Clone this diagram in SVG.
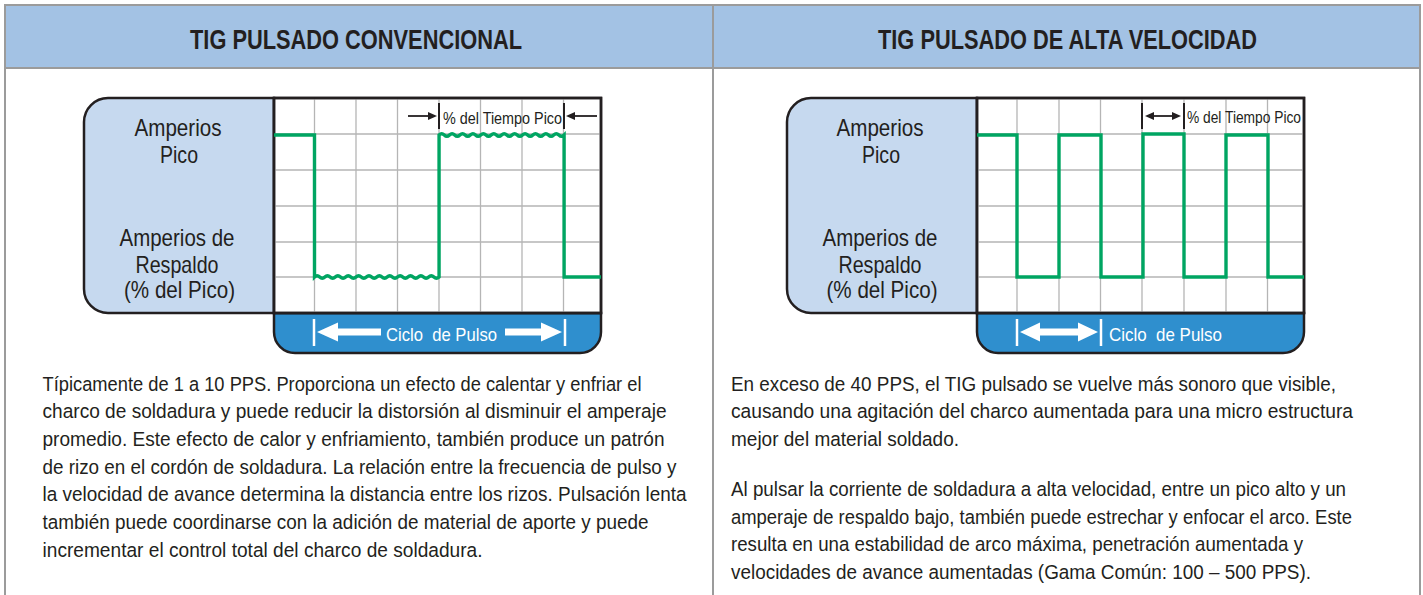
<svg xmlns="http://www.w3.org/2000/svg" width="1423" height="595" viewBox="0 0 1423 595">
<defs>
<style>
.frame{fill:none;stroke:#9b9b9b;stroke-width:2}
.hdr{fill:#a3c2e4}
.htxt{font-family:"Liberation Sans",Arial,sans-serif;font-weight:bold;font-size:28px;fill:#231f20}
.lbox{fill:#c6d9ef;stroke:#231f20;stroke-width:2.5}
.chart{fill:#ffffff;stroke:#231f20;stroke-width:2.5}
.grid{stroke:#b5b5b5;stroke-width:1.3;fill:none}
.wave{fill:none;stroke:#00a562;stroke-width:3.4;stroke-linejoin:miter}
.cbar{fill:#2f8fce;stroke:#231f20;stroke-width:2.5}
.lbl{font-family:"Liberation Sans",Arial,sans-serif;font-size:24px;fill:#231f20;text-anchor:middle}
.ann{font-family:"Liberation Sans",Arial,sans-serif;font-size:16px;fill:#231f20}
.ctxt{font-family:"Liberation Sans",Arial,sans-serif;font-size:19px;fill:#ffffff}
.body{font-family:"Liberation Sans",Arial,sans-serif;font-size:20.5px;fill:#231f20}
.tick{stroke:#231f20;stroke-width:2}
.aline{stroke:#231f20;stroke-width:1.8}
.ahead{fill:#231f20}
.wtick{stroke:#ffffff;stroke-width:2.5}
.warrow{fill:#ffffff}
</style>
</defs>

<g id="frame">
<rect class="hdr" x="5" y="5" width="1415" height="63"/>
<line class="frame" x1="5" y1="5" x2="1420" y2="5"/>
<line class="frame" x1="5" y1="68" x2="1420" y2="68"/>
<line class="frame" x1="5" y1="4" x2="5" y2="595"/>
<line class="frame" x1="713" y1="4" x2="713" y2="595"/>
<line class="frame" x1="1420" y1="4" x2="1420" y2="595"/>
</g>

<g id="header-left">
<text class="htxt" x="190" y="48.5" textLength="332" lengthAdjust="spacingAndGlyphs">TIG PULSADO CONVENCIONAL</text>
</g>
<g id="header-right">
<text class="htxt" x="878" y="48.5" textLength="379" lengthAdjust="spacingAndGlyphs">TIG PULSADO DE ALTA VELOCIDAD</text>
</g>

<g id="panel-left">
<path class="lbox" d="M274,98 H108 A24,24 0 0 0 84,122 V289 A24,24 0 0 0 108,313 H274 Z"/>
<path class="cbar" d="M274,313 H601 V332 A21,21 0 0 1 580,353 H295 A21,21 0 0 1 274,332 Z"/>
<rect class="chart" x="274" y="98" width="327" height="215"/>
<g class="grid">
<path d="M314.5,98V313 M356,98V313 M397.5,98V313 M439,98V313 M480.5,98V313 M522,98V313 M563.5,98V313"/>
<path d="M274,134H601 M274,170H601 M274,206H601 M274,242H601 M274,277H601"/>
</g>
<rect x="274" y="98" width="327" height="215" fill="none" stroke="#231f20" stroke-width="2.5"/>
<path class="wave" d="M274,135 H314.5 V277 q2.59,-2.6 5.19,0 t5.19,0 t5.19,0 t5.19,0 t5.19,0 t5.19,0 t5.19,0 t5.19,0 t5.19,0 t5.19,0 t5.19,0 t5.19,0 t5.19,0 t5.19,0 t5.19,0 t5.19,0 t5.19,0 t5.19,0 t5.19,0 t5.19,0 t5.19,0 t5.19,0 t5.19,0 t5.19,0 V135 q2.6,-2.6 5.21,0 t5.21,0 t5.21,0 t5.21,0 t5.21,0 t5.21,0 t5.21,0 t5.21,0 t5.21,0 t5.21,0 t5.21,0 t5.21,0 t5.21,0 t5.21,0 t5.21,0 t5.21,0 t5.21,0 t5.21,0 t5.21,0 t5.21,0 t5.21,0 t5.21,0 t5.21,0 t5.21,0 V277 H601"/>
<text class="lbl" x="178" y="136" textLength="87" lengthAdjust="spacingAndGlyphs">Amperios</text>
<text class="lbl" x="179" y="163" textLength="38" lengthAdjust="spacingAndGlyphs">Pico</text>
<text class="lbl" x="177" y="246" textLength="115" lengthAdjust="spacingAndGlyphs">Amperios de</text>
<text class="lbl" x="177" y="273" textLength="83" lengthAdjust="spacingAndGlyphs">Respaldo</text>
<text class="lbl" x="179.5" y="298" textLength="111" lengthAdjust="spacingAndGlyphs">(% del Pico)</text>
<line class="tick" x1="439" y1="103" x2="439" y2="129"/>
<line class="tick" x1="564" y1="103" x2="564" y2="129"/>
<text class="ann" x="443" y="124" textLength="119" lengthAdjust="spacingAndGlyphs">% del Tiempo Pico</text>
<line class="wtick" x1="314" y1="319" x2="314" y2="346"/>
<line class="wtick" x1="565" y1="319" x2="565" y2="346"/>
<polygon class="warrow" points="317,332 338,322.5 338,328.5 381,328.5 381,335.5 338,335.5 338,341.5"/>
<polygon class="warrow" points="562,332 541,322.5 541,328.5 505,328.5 505,335.5 541,335.5 541,341.5"/>
<text class="ctxt" x="386" y="340.5" textLength="111" lengthAdjust="spacingAndGlyphs" xml:space="preserve">Ciclo  de Pulso</text>
</g>

<g id="panel-right">
<path class="lbox" d="M977,98 H811 A24,24 0 0 0 787,122 V289 A24,24 0 0 0 811,313 H977 Z"/>
<path class="cbar" d="M977,313 H1304 V332 A21,21 0 0 1 1283,353 H998 A21,21 0 0 1 977,332 Z"/>
<rect class="chart" x="977" y="98" width="327" height="215"/>
<g class="grid">
<path d="M1017,98V313 M1059,98V313 M1100.5,98V313 M1142,98V313 M1184,98V313 M1226,98V313 M1267.5,98V313"/>
<path d="M977,134H1304 M977,170H1304 M977,206H1304 M977,242H1304 M977,277H1304"/>
</g>
<rect x="977" y="98" width="327" height="215" fill="none" stroke="#231f20" stroke-width="2.5"/>
<path class="wave" d="M977,135 H1017 V277 H1059 V135 H1101 V277 H1143 V134 H1184 V277 H1226 V135 H1268 V277 H1304"/>
<text class="lbl" x="880" y="136" textLength="87" lengthAdjust="spacingAndGlyphs">Amperios</text>
<text class="lbl" x="881" y="163" textLength="38" lengthAdjust="spacingAndGlyphs">Pico</text>
<text class="lbl" x="880" y="246" textLength="115" lengthAdjust="spacingAndGlyphs">Amperios de</text>
<text class="lbl" x="880" y="273" textLength="83" lengthAdjust="spacingAndGlyphs">Respaldo</text>
<text class="lbl" x="882" y="298" textLength="111" lengthAdjust="spacingAndGlyphs">(% del Pico)</text>
<line class="tick" x1="1142" y1="103" x2="1142" y2="129"/>
<line class="tick" x1="1184" y1="103" x2="1184" y2="129"/>
<text class="ann" x="1187" y="123" textLength="114" lengthAdjust="spacingAndGlyphs">% del Tiempo Pico</text>
<line class="wtick" x1="1017" y1="319" x2="1017" y2="346"/>
<line class="wtick" x1="1101" y1="319" x2="1101" y2="346"/>
<polygon class="warrow" points="1020,332 1040,322.5 1040,328.5 1078,328.5 1078,322.5 1098,332 1078,341.5 1078,335.5 1040,335.5 1040,341.5"/>
<text class="ctxt" x="1109" y="340.5" textLength="113" lengthAdjust="spacingAndGlyphs" xml:space="preserve">Ciclo  de Pulso</text>
</g>

<g id="connectors">
<line class="aline" x1="408" y1="116" x2="430" y2="116"/>
<polygon class="ahead" points="428,112 437,116 428,120"/>
<line class="aline" x1="597" y1="116" x2="573" y2="116"/>
<polygon class="ahead" points="575,112 566,116 575,120"/>
<line class="aline" x1="1152" y1="116" x2="1174" y2="116"/>
<polygon class="ahead" points="1154,112 1145,116 1154,120"/>
<polygon class="ahead" points="1172,112 1181,116 1172,120"/>
</g>

<g id="text-left">
<text class="body" x="42.5" y="390.5" textLength="599" lengthAdjust="spacingAndGlyphs">Típicamente de 1 a 10 PPS. Proporciona un efecto de calentar y enfriar el</text>
<text class="body" x="42.5" y="418.2" textLength="624" lengthAdjust="spacingAndGlyphs">charco de soldadura y puede reducir la distorsión al disminuir el amperaje</text>
<text class="body" x="42.5" y="445.9" textLength="622" lengthAdjust="spacingAndGlyphs">promedio. Este efecto de calor y enfriamiento, también produce un patrón</text>
<text class="body" x="42.5" y="473.6" textLength="634" lengthAdjust="spacingAndGlyphs">de rizo en el cordón de soldadura. La relación entre la frecuencia de pulso y</text>
<text class="body" x="42.5" y="501.3" textLength="644" lengthAdjust="spacingAndGlyphs">la velocidad de avance determina la distancia entre los rizos. Pulsación lenta</text>
<text class="body" x="42.5" y="529" textLength="606" lengthAdjust="spacingAndGlyphs">también puede coordinarse con la adición de material de aporte y puede</text>
<text class="body" x="42.5" y="556.7" textLength="440" lengthAdjust="spacingAndGlyphs">incrementar el control total del charco de soldadura.</text>
</g>

<g id="text-right">
<text class="body" x="731" y="390.5" textLength="605" lengthAdjust="spacingAndGlyphs">En exceso de 40 PPS, el TIG pulsado se vuelve más sonoro que visible,</text>
<text class="body" x="731" y="418.2" textLength="622" lengthAdjust="spacingAndGlyphs">causando una agitación del charco aumentada para una micro estructura</text>
<text class="body" x="731" y="445.9" textLength="228" lengthAdjust="spacingAndGlyphs">mejor del material soldado.</text>
<text class="body" x="731" y="496" textLength="615" lengthAdjust="spacingAndGlyphs">Al pulsar la corriente de soldadura a alta velocidad, entre un pico alto y un</text>
<text class="body" x="731" y="523.7" textLength="621" lengthAdjust="spacingAndGlyphs">amperaje de respaldo bajo, también puede estrechar y enfocar el arco. Este</text>
<text class="body" x="731" y="551.4" textLength="572" lengthAdjust="spacingAndGlyphs">resulta en una estabilidad de arco máxima, penetración aumentada y</text>
<text class="body" x="731" y="579.1" textLength="580" lengthAdjust="spacingAndGlyphs">velocidades de avance aumentadas (Gama Común: 100 – 500 PPS).</text>
</g>
</svg>
